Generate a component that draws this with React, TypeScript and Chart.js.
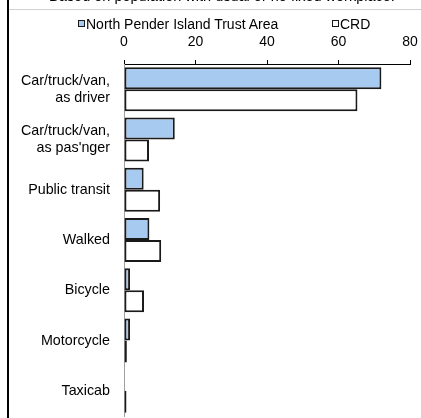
import React, { useEffect, useRef } from "react";
import { Chart, registerables } from "chart.js";

Chart.register(...registerables);

const categories: (string | string[])[] = [
  ["Car/truck/van,", "as driver"],
  ["Car/truck/van,", "as pas'nger"],
  "Public transit",
  "Walked",
  "Bicycle",
  "Motorcycle",
  "Taxicab",
];
const northPender = [72.0, 14.2, 5.5, 7.1, 1.7, 1.7, 0];
const crd = [65.3, 7.0, 10.1, 10.4, 5.6, 0.8, 0.7];
const seriesNames = ["North Pender Island Trust Area", "CRD"];
const xTicks = [0, 20, 40, 60, 80];
const subtitle = "Based on population with usual or no fixed workplace.";

const FONT = "'Liberation Sans', Arial, sans-serif";
const BLUE = "#a7caf0";
const EDGE = "#1a1a1a";

export default function App() {
  const ref = useRef<HTMLCanvasElement | null>(null);

  useEffect(() => {
    document.body.style.margin = "0";
    if (!ref.current) return;
    const chart = new Chart(ref.current, {
      type: "bar",
      data: {
        labels: categories,
        datasets: [
          {
            label: seriesNames[0],
            data: northPender,
            backgroundColor: BLUE,
            borderColor: EDGE,
            borderWidth: 2,
            borderSkipped: false,
            categoryPercentage: 0.875,
            barPercentage: 1.0,
          },
          {
            label: seriesNames[1],
            data: crd,
            backgroundColor: "#ffffff",
            borderColor: EDGE,
            borderWidth: 2,
            borderSkipped: false,
            categoryPercentage: 0.875,
            barPercentage: 1.0,
          },
        ],
      },
      options: {
        indexAxis: "y",
        animation: false,
        responsive: true,
        maintainAspectRatio: false,
        layout: { padding: { top: 34, right: 11, bottom: 2, left: 0 } },
        plugins: {
          legend: { display: false },
          tooltip: { enabled: false },
          title: { display: false },
        },
        scales: {
          x: {
            position: "top",
            min: 0,
            max: 80,
            afterBuildTicks: (scale: any) => {
              scale.ticks = xTicks.map((v) => ({ value: v }));
            },
            afterFit: (scale: any) => {
              scale.height = 30;
              scale.paddingLeft = 0;
              scale.paddingRight = 0;
              scale.paddingTop = 0;
              scale.paddingBottom = 0;
            },
            ticks: {
              color: "#000",
              font: { family: FONT, size: 14 },
              padding: 9,
              maxRotation: 0,
            },
            grid: {
              drawOnChartArea: false,
              drawTicks: true,
              tickLength: 4,
              color: "#000",
            },
            border: { display: true, color: "#000", width: 1 },
          },
          y: {
            afterFit: (scale: any) => {
              scale.width = 124;
              scale.paddingLeft = 0;
              scale.paddingRight = 0;
              scale.paddingTop = 0;
              scale.paddingBottom = 0;
            },
            ticks: {
              color: "#000",
              font: { family: FONT, size: 14.3, lineHeight: 1.2 },
              padding: 14,
            },
            grid: { display: false, drawTicks: false, tickLength: 0 },
            border: { display: true, color: "#a0a0a0", width: 1 },
          },
        },
      },
    });
    return () => chart.destroy();
  }, []);

  const legendText: React.CSSProperties = {
    position: "absolute",
    top: 16,
    fontFamily: FONT,
    fontSize: 14,
    lineHeight: "16px",
    color: "#000",
    whiteSpace: "nowrap",
  };
  const box = (bg: string, left: number): React.CSSProperties => ({
    position: "absolute",
    left,
    top: 20,
    width: 7,
    height: 7,
    boxSizing: "border-box",
    border: `1.5px solid ${EDGE}`,
    background: bg,
  });

  return (
    <div
      style={{
        position: "absolute",
        left: 0,
        top: 0,
        width: 421,
        height: 418,
        overflow: "hidden",
        background: "#fff",
      }}
    >
      <div style={{ position: "absolute", left: 0, top: 0, width: 421, height: 418 }}>
        <canvas ref={ref} />
      </div>
      <div
        style={{
          position: "absolute",
          left: 0,
          width: 444,
          top: -12,
          textAlign: "center",
          fontFamily: FONT,
          fontSize: 14.5,
          lineHeight: "16px",
          color: "#000",
          whiteSpace: "nowrap",
        }}
      >
        {subtitle}
      </div>
      <div style={{ position: "absolute", left: 8, right: 0, top: 9, height: 1, background: "#d0d0d0" }} />
      <div style={{ position: "absolute", left: 7, top: 0, width: 1.5, height: 418, background: "#000" }} />
      <div style={box(BLUE, 78)} />
      <div style={{ ...legendText, left: 86 }}>{seriesNames[0]}</div>
      <div style={box("#ffffff", 332)} />
      <div style={{ ...legendText, left: 340 }}>{seriesNames[1]}</div>
    </div>
  );
}
